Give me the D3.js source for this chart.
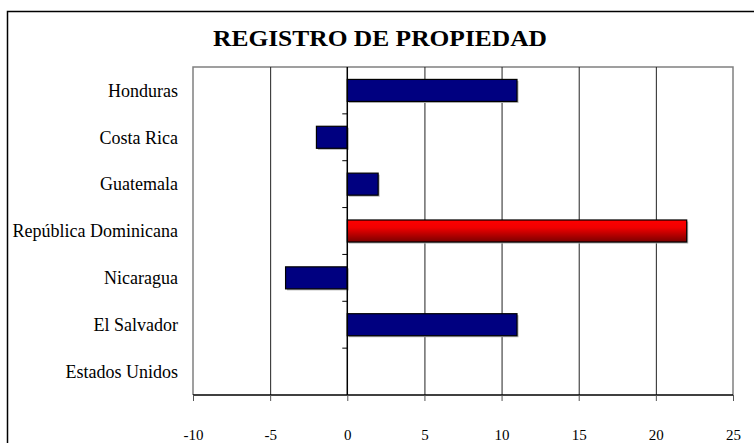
<!DOCTYPE html>
<html>
<head>
<meta charset="utf-8">
<script src="https://cdn.jsdelivr.net/npm/d3@7"></script>
<style>
  body { margin: 0; background: #fff; }
  svg { display: block; }
</style>
</head>
<body>
<svg id="chart" width="754" height="443"></svg>
<script>
var countries = ["Honduras", "Costa Rica", "Guatemala", "República Dominicana", "Nicaragua", "El Salvador", "Estados Unidos"];
var values = [11, -2, 2, 22, -4, 11, 0];
var highlight = ["República Dominicana"];
var xTicks = [-10, -5, 0, 5, 10, 15, 20, 25];

var width = 754,
    height = 443,
    margin = { top: 67, right: 21, bottom: 48, left: 193 };

var svg = d3.select("#chart");
var font = "'Liberation Serif', 'DejaVu Serif', serif";

// outer frame, runs off the right and bottom edges
svg.append("rect")
    .attr("x", 7.5).attr("y", 11.5)
    .attr("width", 800).attr("height", 500)
    .attr("fill", "none").attr("stroke", "#000").attr("stroke-width", 1.5);

var defs = svg.append("defs");
var grad = defs.append("linearGradient")
    .attr("id", "redGrad").attr("x1", 0).attr("y1", 0).attr("x2", 0).attr("y2", 1);
grad.append("stop").attr("offset", "0%").attr("stop-color", "#ff0000");
grad.append("stop").attr("offset", "35%").attr("stop-color", "#f00000");
grad.append("stop").attr("offset", "100%").attr("stop-color", "#7a0000");

var x = d3.scaleLinear().domain([-10, 25]).range([margin.left, width - margin.right]);
var y = d3.scaleBand().domain(countries).range([margin.top, height - margin.bottom]).paddingInner(0.53).paddingOuter(0.265);
var yBand = d3.scaleBand().domain(countries).range([margin.top, height - margin.bottom]);

// title
svg.append("text")
    .attr("x", 380).attr("y", 46)
    .attr("text-anchor", "middle")
    .attr("textLength", 334).attr("lengthAdjust", "spacingAndGlyphs")
    .style("font-family", font).style("font-weight", "bold").style("font-size", "23px")
    .text("REGISTRO DE PROPIEDAD");

// plot border (gray) top/left/right
svg.append("path")
    .attr("d", "M" + x(-10) + "," + (height - margin.bottom) + "V" + margin.top + "H" + x(25) + "V" + (height - margin.bottom))
    .attr("fill", "none").attr("stroke", "#808080").attr("stroke-width", 1.5);

// gridlines
svg.append("g")
    .selectAll("line")
    .data(xTicks.filter(function (d) { return d !== -10 && d !== 25 && d !== 0; }))
    .enter()
    .append("line")
    .attr("x1", function (d) { return x(d) + 0.5; })
    .attr("x2", function (d) { return x(d) + 0.5; })
    .attr("y1", margin.top)
    .attr("y2", height - margin.bottom)
    .attr("stroke", "#222").attr("stroke-width", 1);

// x axis
var xAxis = svg.append("g")
    .attr("transform", "translate(0," + (height - margin.bottom) + ")")
    .call(d3.axisBottom(x).tickValues(xTicks).tickSize(6).tickFormat(function (d) { return String(d); }));
xAxis.select(".domain").attr("stroke", "#000").attr("stroke-width", 1.5).attr("d", "M" + x(-10) + ",0H" + x(25));
xAxis.selectAll(".tick line").attr("stroke", "#555");
xAxis.selectAll("text")
    .attr("y", 45).attr("dy", 0)
    .style("font-family", font).style("font-size", "15px").attr("fill", "#000");

// bar shadows
svg.append("g")
    .selectAll("rect")
    .data(values)
    .enter()
    .append("rect")
    .attr("x", function (d) { return Math.min(x(0), x(d)) + 1.5; })
    .attr("y", function (d, i) { return y(countries[i]) + 1.5; })
    .attr("width", function (d) { return Math.abs(x(d) - x(0)); })
    .attr("height", y.bandwidth())
    .attr("fill", "#b0b0b0")
    .style("display", function (d) { return d === 0 ? "none" : null; });

// bars
svg.append("g")
    .selectAll("rect")
    .data(values)
    .enter()
    .append("rect")
    .attr("x", function (d) { return Math.min(x(0), x(d)); })
    .attr("y", function (d, i) { return y(countries[i]); })
    .attr("width", function (d) { return Math.abs(x(d) - x(0)); })
    .attr("height", y.bandwidth())
    .attr("fill", function (d, i) { return highlight.indexOf(countries[i]) >= 0 ? "url(#redGrad)" : "#000080"; })
    .attr("stroke", "#000").attr("stroke-width", 1.2)
    .style("display", function (d) { return d === 0 ? "none" : null; });

// category axis on zero line
var zeroAxis = svg.append("g");
zeroAxis.append("line")
    .attr("x1", x(0)).attr("x2", x(0))
    .attr("y1", margin.top).attr("y2", height - margin.bottom)
    .attr("stroke", "#000").attr("stroke-width", 1.5);
zeroAxis.selectAll(".ctick")
    .data(countries.slice(1))
    .enter()
    .append("line")
    .attr("class", "ctick")
    .attr("x1", x(0) - 5).attr("x2", x(0))
    .attr("y1", function (d) { return yBand(d); })
    .attr("y2", function (d) { return yBand(d); })
    .attr("stroke", "#000");

// category labels
svg.append("g")
    .selectAll("text")
    .data(countries)
    .enter()
    .append("text")
    .attr("x", 178)
    .attr("y", function (d) { return yBand(d) + yBand.bandwidth() / 2; })
    .attr("dy", "0.35em")
    .attr("text-anchor", "end")
    .style("font-family", font).style("font-size", "18px")
    .text(function (d) { return d; });
</script>
</body>
</html>
